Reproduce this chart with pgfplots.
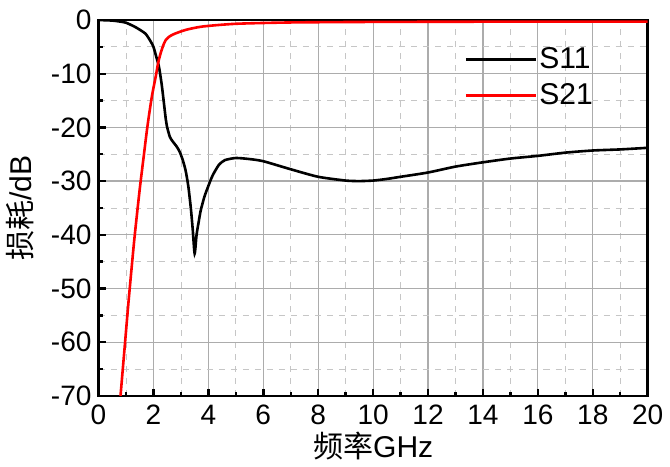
\documentclass[border=0pt]{standalone}
\usepackage{fontspec}
\setmainfont{Liberation Sans}
\newfontfamily\cjk{Noto Sans CJK SC}
\usepackage{pgfplots}
\pgfplotsset{compat=1.18}

\begin{document}
\begin{tikzpicture}
\begin{axis}[
    scale only axis,
    width=274pt,
    height=187.5pt,
    xmin=0, xmax=20,
    ymin=-70, ymax=0,
    xtick={0,2,...,20},
    ytick={-70,-60,...,0},
    minor x tick num=1,
    minor y tick num=1,
    grid=both,
    major grid style={draw=gray!65, line width=0.6pt},
    minor grid style={draw=gray!45, dashed, line width=0.4pt},
    axis line style={line width=1.3pt},
    tick style={line width=1.2pt, black},
    major tick length=3.5pt,
    minor tick length=2pt,
    tick align=inside,
    xtick pos=bottom,
    ytick pos=left,
    /pgf/number format/assume math mode=true,
    tick label style={font=\fontsize{14}{14}\selectfont},
    xticklabel style={yshift=-1pt},
    xlabel={{\cjk 频率}GHz},
    ylabel={{\cjk 损耗}/dB},
    label style={font=\fontsize{15}{15}\selectfont},
    xlabel style={at={(axis description cs:0.5,-0.133)}, anchor=center},
    ylabel style={at={(axis description cs:-0.142,0.5)}, anchor=center},
    legend style={draw=none, fill=none, at={(0.655,0.847)}, anchor=west,
        font=\fontsize{15}{15}\selectfont, row sep=2pt,
        nodes={inner xsep=1pt}},
    legend cell align=left,
    legend image code/.code={\draw[#1] (0pt,0pt) -- (35pt,0pt);},
]
\addplot[black, line width=1.3pt, smooth, tension=0.4] coordinates {
(0,0) (0.5,-0.1) (0.8,-0.3) (1.0,-0.5) (1.3,-1.2) (1.5,-1.8) (1.72,-2.6)
(1.9,-4) (2.0,-5) (2.1,-6.8) (2.2,-8.7) (2.3,-12) (2.37,-15) (2.45,-18.5)
(2.5,-20) (2.6,-21.8) (2.7,-22.6) (2.85,-23.6) (2.95,-24.5) (3.05,-25.8)
(3.17,-28) (3.27,-31) (3.36,-35) (3.43,-39) (3.5,-43.5) (3.57,-40)
(3.65,-37.5) (3.72,-35.5) (3.85,-33) (3.97,-31.3) (4.15,-29) (4.38,-27)
(4.6,-26.1) (5.0,-25.7) (5.5,-25.9) (6.0,-26.3) (7.0,-27.8) (8.0,-29.2)
(9.0,-29.9) (9.5,-30) (10.0,-29.9) (10.5,-29.6) (11,-29.2) (12,-28.4)
(13,-27.3) (14,-26.5) (15,-25.8) (16,-25.3) (17,-24.7) (18,-24.3)
(19,-24.1) (20,-23.8)
};
\addlegendentry{S11}
\addplot[red, line width=1.3pt, smooth, tension=0.4] coordinates {
(0.8,-70) (0.95,-61) (1.1,-52) (1.3,-41) (1.5,-31.5) (1.64,-25.6)
(1.75,-21) (1.83,-18) (1.95,-14) (2.08,-10.6) (2.17,-8) (2.26,-6.2)
(2.35,-4.8) (2.45,-3.7) (2.6,-3) (2.8,-2.5) (3.2,-1.8) (3.8,-1.2)
(5,-0.7) (7,-0.45) (10,-0.35) (15,-0.3) (20,-0.3)
};
\addlegendentry{S21}
\end{axis}
\path (current axis.south east) ++(9.5pt,0pt);
\path (current axis.north west) ++(0pt,10pt);
\end{tikzpicture}
\end{document}
